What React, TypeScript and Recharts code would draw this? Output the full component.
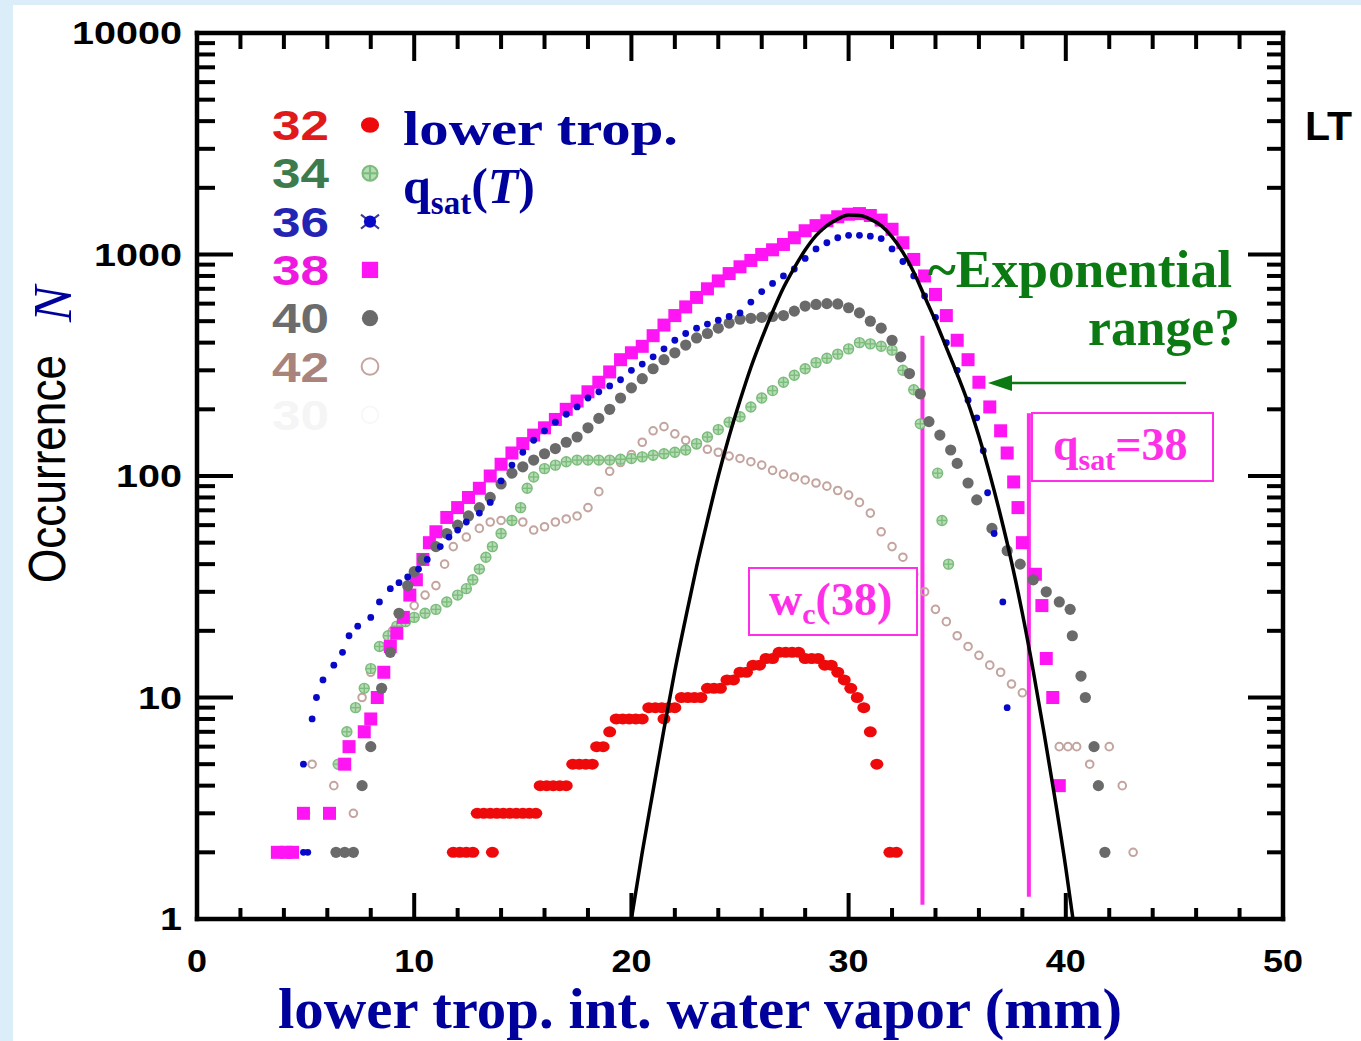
import React from 'react';
import { ScatterChart, Scatter, XAxis, YAxis, ReferenceLine } from 'recharts';

type Pt = [number, number];

// occurrence N vs lower-trop. integrated water vapor (mm), one list per q_sat(T) bin
const n32: Pt[] = [
  [11.8, 2], [12.1, 2], [12.4, 2], [12.7, 2], [13.6, 2],
  [12.9, 3], [13.2, 3], [13.5, 3], [13.8, 3], [14.1, 3], [14.4, 3], [14.7, 3], [15.0, 3], [15.3, 3], [15.6, 3],
  [15.8, 4], [16.1, 4], [16.4, 4], [16.7, 4], [17.0, 4],
  [17.3, 5], [17.6, 5], [17.9, 5], [18.2, 5],
  [18.4, 6], [18.7, 6], [19.0, 7],
  [19.3, 8], [19.6, 8], [19.9, 8], [20.2, 8], [20.5, 8], [21.5, 8],
  [20.8, 9], [21.1, 9], [21.4, 9], [21.7, 9], [22.0, 9],
  [22.3, 10], [22.6, 10], [22.9, 10], [23.2, 10], [23.5, 11], [23.8, 11], [24.1, 11], [24.4, 12], [24.7, 12],
  [25.0, 13], [25.3, 13], [25.6, 14], [25.9, 14], [26.2, 15], [26.5, 15], [26.8, 16], [27.1, 16], [27.4, 16],
  [27.7, 16], [28.0, 15], [28.3, 15], [28.6, 15], [28.9, 14], [29.2, 14], [29.5, 13], [29.8, 12], [30.1, 11],
  [30.4, 10], [30.7, 9], [31.0, 7], [31.3, 5], [31.9, 2], [32.2, 2],
];

const n34: Pt[] = [
  [6.5, 5], [6.9, 7], [7.3, 9], [7.7, 11], [8.0, 13.5], [8.4, 17], [8.8, 19], [9.2, 21], [9.6, 22], [10.0, 23],
  [10.5, 24], [11.0, 25], [11.5, 27], [12.0, 29], [12.4, 31], [12.7, 34], [13.0, 38], [13.3, 43], [13.6, 48],
  [14.0, 55], [14.5, 63], [14.9, 72], [15.2, 88], [15.5, 99], [16.0, 108], [16.5, 112], [17.0, 116], [17.5, 118],
  [18.0, 118], [18.5, 118], [19.0, 118], [19.5, 119], [20.0, 120], [20.5, 122], [21.0, 124], [21.5, 126],
  [22.0, 128], [22.5, 131], [23.0, 140], [23.5, 150], [24.0, 162], [24.5, 175], [25.0, 185], [25.5, 205],
  [26.0, 225], [26.5, 243], [27.0, 265], [27.5, 285], [28.0, 305], [28.5, 325], [29.0, 340], [29.5, 355],
  [30.0, 375], [30.5, 400], [31.0, 395], [31.5, 385], [32.0, 370], [32.5, 300], [33.0, 245], [33.3, 172],
  [34.1, 103], [34.3, 63], [34.6, 40],
];

const n36: Pt[] = [
  [4.9, 2], [5.1, 2], [4.9, 5], [5.3, 8], [5.5, 10], [5.8, 12], [6.3, 14], [6.7, 16], [7.0, 19], [7.4, 21],
  [8.0, 23], [8.4, 27], [8.9, 31], [9.3, 33], [9.7, 35], [10.2, 38], [10.6, 42], [11.2, 48], [11.6, 53],
  [12.0, 57], [12.4, 62], [13.0, 68], [13.5, 76], [14.0, 95], [14.5, 112], [15.0, 128], [15.5, 145], [16.0, 160],
  [16.5, 175], [17.0, 190], [17.5, 205], [18.0, 225], [18.5, 240], [19.0, 255], [19.5, 272], [20.0, 300],
  [20.5, 320], [21.0, 345], [21.5, 375], [22.0, 410], [22.5, 440], [23.0, 465], [23.5, 485], [24.0, 505],
  [24.5, 525], [25.0, 545], [25.5, 610], [26.0, 680], [26.5, 740], [27.0, 800], [27.5, 860], [28.0, 960],
  [28.5, 1060], [29.0, 1130], [29.5, 1190], [30.0, 1220], [30.5, 1220], [31.0, 1210], [31.5, 1180], [32.0, 1060],
  [32.5, 930], [33.0, 800], [33.5, 650], [34.0, 520], [34.5, 400], [35.0, 300], [35.5, 220], [35.9, 183],
  [36.2, 130], [36.4, 84], [36.7, 55], [37.1, 27], [37.3, 9],
];

const n38: Pt[] = [
  [3.7, 2], [4.1, 2], [4.4, 2], [4.9, 3], [6.1, 3], [6.8, 5], [7.0, 6], [7.7, 7], [8.0, 8], [8.3, 10], [8.6, 13],
  [8.9, 17], [9.2, 19.5], [9.5, 23], [9.8, 29], [10.1, 34], [10.4, 42], [10.7, 50], [11.0, 56], [11.5, 65],
  [12.0, 72], [12.5, 80], [13.0, 88], [13.5, 100], [14.0, 113], [14.5, 127], [15.0, 140], [15.5, 153],
  [16.0, 165], [16.5, 180], [17.0, 200], [17.5, 218], [18.0, 240], [18.5, 265], [19.0, 295], [19.5, 335],
  [20.0, 360], [20.5, 385], [21.0, 430], [21.5, 480], [22.0, 530], [22.5, 580], [23.0, 640], [23.5, 700],
  [24.0, 760], [24.5, 820], [25.0, 880], [25.5, 940], [26.0, 1000], [26.5, 1050], [27.0, 1110], [27.5, 1190],
  [28.0, 1280], [28.5, 1350], [29.0, 1420], [29.5, 1480], [30.0, 1520], [30.5, 1530], [31.0, 1500], [31.5, 1430],
  [32.0, 1300], [32.5, 1130], [33.0, 950], [33.5, 800], [34.0, 660], [34.5, 530], [35.0, 410], [35.5, 335],
  [36.0, 265], [36.5, 205], [37.0, 160], [37.3, 127], [37.6, 94], [37.8, 72], [38.0, 50], [38.6, 36], [38.9, 26],
  [39.1, 15], [39.4, 10], [39.7, 4],
];

const n40: Pt[] = [
  [6.4, 2], [6.8, 2], [7.2, 2], [7.6, 4], [8.0, 6], [8.5, 11], [8.9, 16], [9.3, 24], [9.7, 32], [10.0, 37],
  [10.4, 42], [11.0, 48], [11.5, 55], [12.0, 60], [12.5, 66], [13.0, 72], [13.5, 80], [14.0, 92], [14.5, 103],
  [15.0, 110], [15.5, 118], [16.0, 126], [16.5, 133], [17.0, 142], [17.5, 150], [18.0, 165], [18.5, 182],
  [19.0, 200], [19.5, 225], [20.0, 250], [20.5, 275], [21.0, 305], [21.5, 335], [22.0, 360], [22.5, 390],
  [23.0, 420], [23.5, 440], [24.0, 465], [24.5, 490], [25.0, 510], [25.5, 515], [26.0, 520], [26.5, 525],
  [27.0, 530], [27.5, 555], [28.0, 585], [28.5, 595], [29.0, 600], [29.5, 598], [30.0, 575], [30.5, 545],
  [31.0, 500], [31.5, 465], [32.0, 410], [32.4, 345], [32.8, 290], [33.3, 235], [33.7, 176], [34.2, 153],
  [34.7, 131], [35.0, 114], [35.5, 93], [35.9, 78], [36.6, 58], [37.3, 46], [37.9, 40], [38.5, 34], [39.1, 30],
  [39.7, 27], [40.2, 25], [40.3, 19], [40.7, 12.5], [40.9, 10], [41.3, 6], [41.5, 4], [41.8, 2],
];

const n42: Pt[] = [
  [5.0, 3], [5.3, 5], [6.3, 4], [7.2, 3], [7.0, 6], [7.6, 10], [8.0, 13], [8.5, 17], [9.0, 20], [9.5, 23],
  [10.0, 26], [10.5, 29], [11.0, 32], [11.4, 40], [11.8, 48], [12.4, 53], [13.0, 58], [13.5, 62], [14.0, 63],
  [14.5, 63], [15.0, 62], [15.5, 57], [16.0, 59], [16.5, 62], [17.0, 64], [17.5, 66], [18.0, 72], [18.5, 85],
  [19.0, 105], [19.5, 115], [20.0, 125], [20.5, 142], [21.0, 160], [21.5, 167], [22.0, 155], [22.5, 145],
  [23.0, 138], [23.5, 132], [24.0, 128], [24.5, 123], [25.0, 120], [25.5, 116], [26.0, 112], [26.5, 106],
  [27.0, 102], [27.5, 99], [28.0, 96], [28.5, 93], [29.0, 90], [29.5, 86], [30.0, 82], [30.5, 76], [31.0, 68],
  [31.5, 56], [32.0, 48], [32.5, 43], [33.0, 36], [33.5, 30], [34.0, 25], [34.5, 22], [35.0, 19], [35.5, 17],
  [36.0, 15.5], [36.5, 14], [37.0, 13], [37.5, 11.5], [38.0, 10.5], [39.7, 6], [40.1, 6], [40.5, 6], [41.1, 5],
  [42.0, 6], [42.6, 4], [43.1, 2],
];

// black fitted curve
const fitCurve: Pt[] = [
  [20.0, 1], [20.5, 2.0], [21.0, 3.8], [21.5, 7.2], [22.0, 13.2], [22.5, 22.9], [23.0, 38.9], [23.5, 63],
  [24.0, 100], [24.5, 151], [25.0, 219], [25.5, 309], [26.0, 417], [26.5, 550], [27.0, 708], [27.5, 871],
  [28.0, 1047], [28.5, 1216], [29.0, 1349], [29.5, 1445], [30.0, 1507], [30.5, 1500], [31.0, 1445],
  [31.5, 1349], [32.0, 1202], [32.5, 1023], [33.0, 832], [33.5, 646], [34.0, 501], [34.5, 380], [35.0, 288],
  [35.5, 214], [36.0, 151], [36.5, 102], [37.0, 66], [37.5, 41], [38.0, 24], [38.5, 13.2], [39.0, 6.9],
  [39.5, 3.5], [40.0, 1.7], [40.33, 1],
];

const wc38 = 33.4;
const qsat38 = 38.3;

const xTicks = [0, 2, 4, 6, 8, 10, 12, 14, 16, 18, 20, 22, 24, 26, 28, 30, 32, 34, 36, 38, 40, 42, 44, 46, 48, 50];
const decades = [1, 10, 100, 1000];
const mantissas = [1, 2, 3, 4, 5, 6, 7, 8, 9];
const yTicks = [...decades.flatMap((d) => mantissas.map((m) => m * d)), 10000];

const legendLabels = ['32', '34', '36', '38', '40', '42', '30'];

const toXY = (pts: Pt[]) => pts.map(([x, y]) => ({ x, y }));

const isDecade = (v: number) => Math.abs(Math.log10(v) - Math.round(Math.log10(v))) < 1e-6;
const tickFont: React.CSSProperties = { fontFamily: 'Liberation Sans, Arial, sans-serif', fontWeight: 700, fontSize: 31 };
const axisStyle = { stroke: '#000', strokeWidth: 4.5, strokeLinecap: 'square' as const };

const LeftTick = (p: any) => {
  const v = p.payload.value;
  const major = isDecade(v);
  const s = String(v);
  return (
    <g>
      <line x1={p.x} x2={p.x + (major ? 36 : 18)} y1={p.y} y2={p.y} stroke="#000" strokeWidth={4} />
      {major && (
        <text x={p.x - 15} y={p.y + 11} textAnchor="end" style={tickFont} fill="#000" textLength={s.length * 22} lengthAdjust="spacingAndGlyphs">
          {s}
        </text>
      )}
    </g>
  );
};

const RightTick = (p: any) => {
  const major = isDecade(p.payload.value);
  return <line x1={p.x} x2={p.x - (major ? 35 : 16)} y1={p.y} y2={p.y} stroke="#000" strokeWidth={4} />;
};

const BottomTick = (p: any) => {
  const v = p.payload.value;
  const major = v % 10 === 0;
  const s = String(v);
  return (
    <g>
      <line x1={p.x} x2={p.x} y1={p.y} y2={p.y - (major ? 26 : 11)} stroke="#000" strokeWidth={4} />
      {major && (
        <text x={p.x} y={p.y + 53} textAnchor="middle" style={tickFont} fill="#000" textLength={s.length * 20} lengthAdjust="spacingAndGlyphs">
          {s}
        </text>
      )}
    </g>
  );
};

const TopTick = (p: any) => {
  const major = p.payload.value % 10 === 0;
  return <line x1={p.x} x2={p.x} y1={p.y} y2={p.y + (major ? 28 : 16)} stroke="#000" strokeWidth={4} />;
};

// marker drawers, shared by the series and the legend
const redDot = (cx: number, cy: number, k = 1) => <ellipse cx={cx} cy={cy} rx={6.5 * k} ry={5.5 * k} fill="#ee0a0a" />;
const greenCross = (cx: number, cy: number, k = 1) => (
  <g stroke="#7cbc7c" strokeWidth={1.4 * k} fill="#b6dcb6">
    <circle cx={cx} cy={cy} r={5 * k} />
    <line x1={cx - 5 * k} x2={cx + 5 * k} y1={cy} y2={cy} />
    <line x1={cx} x2={cx} y1={cy - 5 * k} y2={cy + 5 * k} />
  </g>
);
const blueStar = (cx: number, cy: number, k = 1) => (
  <g>
    {k > 1 && (
      <g stroke="#3a3a9a" strokeWidth={2}>
        <line x1={cx - 9} x2={cx + 9} y1={cy - 7} y2={cy + 7} />
        <line x1={cx - 9} x2={cx + 9} y1={cy + 7} y2={cy - 7} />
      </g>
    )}
    <circle cx={cx} cy={cy} r={3.4 * k} fill="#0808c8" />
  </g>
);
const magentaSquare = (cx: number, cy: number, k = 1) => (
  <rect x={cx - 6.5 * k} y={cy - 6.5 * k} width={13 * k} height={13 * k} fill="#ff14f4" />
);
const grayDot = (cx: number, cy: number, k = 1) => <circle cx={cx} cy={cy} r={5.6 * k} fill="#6a6a6a" />;
const brownRing = (cx: number, cy: number, k = 1) => (
  <circle cx={cx} cy={cy} r={3.8 * k} fill="none" stroke="#c4a49e" strokeWidth={2} />
);
const faintRing = (cx: number, cy: number, k = 1) => (
  <circle cx={cx} cy={cy} r={3.8 * k} fill="none" stroke="#f6f6f6" strokeWidth={1.6} />
);

const legendColors = ['#e01a1a', '#3d7a4c', '#2424b4', '#ee18e0', '#6c6c6c', '#a8847c', '#f5f5f5'];
const legendMarkers = [redDot, greenCross, blueStar, magentaSquare, grayDot, brownRing, faintRing];
const legendScale = [1.4, 1.5, 1.8, 1.25, 1.45, 2.2, 2.2];

const shapeOf = (draw: (cx: number, cy: number, k?: number) => React.ReactElement) => (p: any) =>
  p.cx == null ? <g /> : draw(p.cx, p.cy);

const serif = 'Liberation Serif, Times New Roman, serif';
const sans = 'Liberation Sans, Arial, sans-serif';
const navy = '#00009c';
const pink = '#ff2ee8';
const green = '#0c7a12';

const App: React.FC = () => (
  <div style={{ position: 'relative', width: 1361, height: 1041, background: '#dcedfa', overflow: 'hidden' }}>
    <style>{'body{margin:0}'}</style>
    <div style={{ position: 'absolute', left: 13, top: 5, right: 0, bottom: 0, background: '#ffffff' }} />
    <div style={{ position: 'absolute', left: 0, top: 0 }}>
      <ScatterChart width={1361} height={1041} margin={{ top: 23, right: 58, bottom: 72, left: 97 }}>
        <XAxis
          type="number"
          dataKey="x"
          domain={[0, 50]}
          ticks={xTicks}
          interval={0}
          tickSize={0}
          tickMargin={0}
          tickLine={false}
          tick={(p: any) => <BottomTick {...p} />}
          axisLine={axisStyle}
          height={50}
          allowDataOverflow
        />
        <XAxis
          xAxisId="top"
          orientation="top"
          type="number"
          dataKey="x"
          domain={[0, 50]}
          ticks={xTicks}
          interval={0}
          tickSize={0}
          tickMargin={0}
          tickLine={false}
          tick={(p: any) => <TopTick {...p} />}
          axisLine={axisStyle}
          height={10}
          allowDataOverflow
        />
        <YAxis
          type="number"
          dataKey="y"
          scale="log"
          domain={[1, 10000]}
          ticks={yTicks}
          interval={0}
          tickSize={0}
          tickMargin={0}
          tickLine={false}
          tick={(p: any) => <LeftTick {...p} />}
          axisLine={axisStyle}
          width={100}
          allowDataOverflow
        />
        <YAxis
          yAxisId="right"
          orientation="right"
          type="number"
          dataKey="y"
          scale="log"
          domain={[1, 10000]}
          ticks={yTicks}
          interval={0}
          tickSize={0}
          tickMargin={0}
          tickLine={false}
          tick={(p: any) => <RightTick {...p} />}
          axisLine={axisStyle}
          width={20}
          allowDataOverflow
        />
        <Scatter name="42" data={toXY(n42)} shape={shapeOf(brownRing)} isAnimationActive={false} />
        <Scatter name="34" data={toXY(n34)} shape={shapeOf(greenCross)} isAnimationActive={false} />
        <Scatter name="38" data={toXY(n38)} shape={shapeOf(magentaSquare)} isAnimationActive={false} />
        <Scatter name="40" data={toXY(n40)} shape={shapeOf(grayDot)} isAnimationActive={false} />
        <Scatter name="36" data={toXY(n36)} shape={shapeOf(blueStar)} isAnimationActive={false} />
        <Scatter name="32" data={toXY(n32)} shape={shapeOf(redDot)} isAnimationActive={false} />
        <Scatter
          name="fit"
          data={toXY(fitCurve)}
          line={{ stroke: '#000', strokeWidth: 3.5 }}
          lineJointType="monotoneX"
          shape={() => <g />}
          isAnimationActive={false}
        />
        <ReferenceLine segment={[{ x: wc38, y: 1.16 }, { x: wc38, y: 430 }]} stroke={pink} strokeWidth={4} ifOverflow="visible" />
        <ReferenceLine segment={[{ x: qsat38, y: 1.26 }, { x: qsat38, y: 192 }]} stroke={pink} strokeWidth={4} ifOverflow="visible" />
      </ScatterChart>
    </div>

    <svg width={1361} height={1041} style={{ position: 'absolute', left: 0, top: 0, pointerEvents: 'none' }}>
      {legendLabels.map((lab, i) => {
        const cy = 125 + i * 48.3;
        return (
          <g key={lab}>
            <text x={272} y={cy + 15} fontFamily={sans} fontWeight={700} fontSize={43} fill={legendColors[i]} textLength={57} lengthAdjust="spacingAndGlyphs">
              {lab}
            </text>
            {legendMarkers[i](370, cy, legendScale[i])}
          </g>
        );
      })}

      <text x={403} y={145} fontFamily={serif} fontWeight={700} fontSize={49} fill={navy} textLength={275} lengthAdjust="spacingAndGlyphs">
        lower trop.
      </text>
      <text x={403} y={203} fontFamily={serif} fontWeight={700} fontSize={50} fill={navy}>
        q<tspan fontSize={33} dy={11}>sat</tspan>
        <tspan dy={-11}>(</tspan>
        <tspan fontStyle="italic">T</tspan>)
      </text>

      <text x={1305} y={140} fontFamily={sans} fontWeight={700} fontSize={41} fill="#000">
        LT
      </text>

      <text x={928} y={287} fontFamily={serif} fontWeight={700} fontSize={52} fill={green} textLength={304} lengthAdjust="spacingAndGlyphs">
        ~Exponential
      </text>
      <text x={1088} y={345} fontFamily={serif} fontWeight={700} fontSize={52} fill={green} textLength={152} lengthAdjust="spacingAndGlyphs">
        range?
      </text>
      <line x1={1186} x2={1008} y1={383} y2={383} stroke={green} strokeWidth={2.5} />
      <polygon points="988,383 1012,375 1012,391" fill={green} />

      <rect x={749} y={568} width={168} height={67} fill="#fff" stroke={pink} strokeWidth={2} />
      <text x={769} y={615} fontFamily={serif} fontWeight={700} fontSize={46} fill={pink}>
        w<tspan fontSize={30} dy={9}>c</tspan>
        <tspan dy={-9}>(38)</tspan>
      </text>
      <rect x={1032} y={413} width={181} height={68} fill="#fff" stroke={pink} strokeWidth={2} />
      <text x={1053} y={460} fontFamily={serif} fontWeight={700} fontSize={46} fill={pink}>
        q<tspan fontSize={30} dy={10}>sat</tspan>
        <tspan dy={-10}>=38</tspan>
      </text>

      <text transform="translate(65,583) rotate(-90)" fontFamily={sans} fontSize={52} fill="#000" textLength={228} lengthAdjust="spacingAndGlyphs">
        Occurrence
      </text>
      <text transform="translate(71,322) rotate(-90)" fontFamily={serif} fontStyle="italic" fontSize={54} fill={navy}>
        N
      </text>

      <text x={278} y={1028} fontFamily={serif} fontWeight={700} fontSize={58} fill={navy} textLength={844} lengthAdjust="spacingAndGlyphs">
        lower trop. int. water vapor (mm)
      </text>
    </svg>
  </div>
);

export default App;
